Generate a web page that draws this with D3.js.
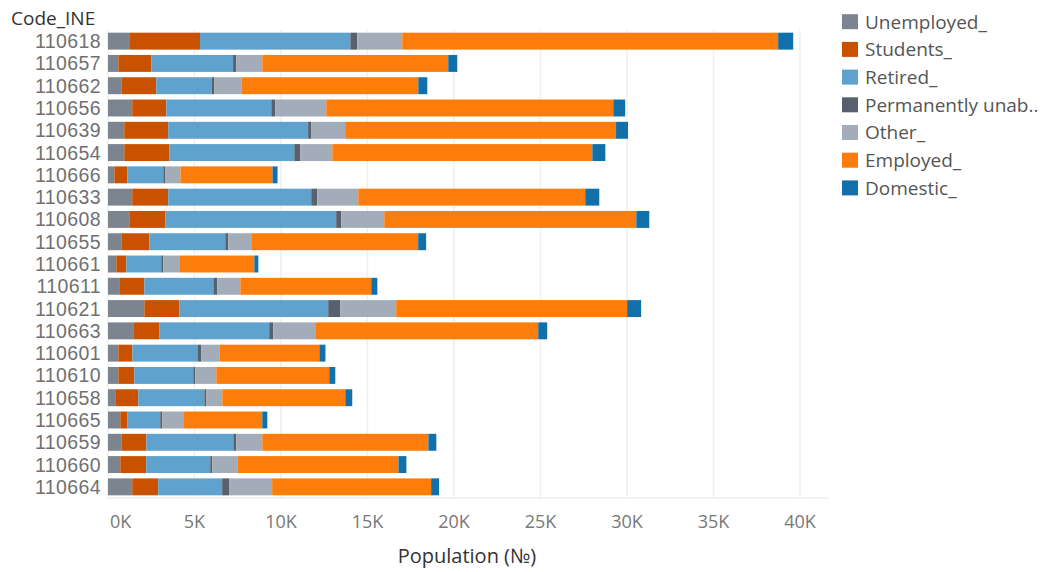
<!DOCTYPE html>
<html>
<head>
<meta charset="utf-8">
<script src="https://cdn.jsdelivr.net/npm/d3@7"></script>
<style>
  html, body { margin: 0; padding: 0; background: #fff; }
  svg { display: block; font-family: "Open Sans", sans-serif; }
</style>
</head>
<body>
<svg id="chart" width="1053" height="572"></svg>
<script>
const categories = ["110618","110657","110662","110656","110639","110654","110666","110633","110608","110655","110661","110611","110621","110663","110601","110610","110658","110665","110659","110660","110664"];
const seriesNames = ["Unemployed_","Students_","Retired_","Permanently unab..","Other_","Employed_","Domestic_"];
const unemployed  = [1270, 600, 770,1400, 940, 940, 370,1400,1230, 770, 480, 650,2100,1460, 600, 600, 420, 710, 770, 710,1400];
const students    = [4050,1910,2020,1970,2540,2600, 750,2080,2080,1620, 580,1450,2020,1500, 810, 920,1330, 400,1450,1500,1500];
const retired     = [8690,4720,3200,6070,8090,7230,2080,8270,9880,4390,2020,3990,8610,6360,3760,3410,3820,1910,5030,3700,3700];
const permanently = [ 400, 190, 160, 230, 170, 350, 120, 350, 290, 170, 120, 230, 690, 230, 230, 120, 120, 120, 170, 120, 400];
const other       = [2600,1500,1560,2950,1970,1850, 870,2370,2490,1330, 920,1330,3240,2430,1040,1210, 920,1210,1500,1450,2490];
const employed    = [21730,10750,10230,16590,15660,15030,5320,13120,14570,9650,4340,7570,13350,12890,5780,6530,7110,4570,9600,9310,9190];
const domestic    = [ 870, 520, 520, 690, 690, 750, 290, 810, 750, 460, 230, 350, 810, 520, 350, 350, 400, 290, 460, 460, 460];
const tickValues  = [0,5000,10000,15000,20000,25000,30000,35000,40000];
const tickLabels  = ["0K","5K","10K","15K","20K","25K","30K","35K","40K"];
const colors      = ["#7b848f","#c85200","#5fa2ce","#57606c","#a3acb9","#fc7d0b","#1170aa"];

const seriesArrays = [unemployed, students, retired, permanently, other, employed, domestic];
const table = categories.map((c, i) => {
  const row = { code: c };
  seriesNames.forEach((s, j) => row[s] = seriesArrays[j][i]);
  return row;
});

const svg = d3.select("#chart");
const x = d3.scaleLinear().domain([0, 41680]).range([108, 829]);
const y = d3.scaleBand().domain(categories).range([30, 498]).paddingInner(0.24).paddingOuter(0.12);
const color = d3.scaleOrdinal().domain(seriesNames).range(colors);

// gridlines
svg.append("g").selectAll("line").data(tickValues).join("line")
  .attr("x1", d => x(d)).attr("x2", d => x(d))
  .attr("y1", 30).attr("y2", 498)
  .attr("stroke", "#efefef").attr("stroke-width", 1.5);
// axis baseline
svg.append("line").attr("x1", 108).attr("x2", 829).attr("y1", 498).attr("y2", 498)
  .attr("stroke", "#efefef").attr("stroke-width", 1.5);

// stacked bars
const stack = d3.stack().keys(seriesNames);
const layers = stack(table);
svg.append("g").selectAll("g").data(layers).join("g")
  .attr("fill", d => color(d.key))
  .selectAll("rect").data(d => d).join("rect")
  .attr("x", d => x(d[0]))
  .attr("width", d => x(d[1]) - x(d[0]))
  .attr("y", d => y(d.data.code))
  .attr("height", y.bandwidth());

// y labels
svg.append("g").selectAll("text").data(categories).join("text")
  .attr("x", 101).attr("y", d => y(d) + y.bandwidth() / 2)
  .attr("dy", "0.36em")
  .attr("text-anchor", "end")
  .attr("font-family", "'Liberation Sans', Arial, sans-serif")
  .attr("font-size", 19.5).attr("fill", "#707070")
  .attr("letter-spacing", 0.4)
  .text(d => d);

svg.append("text").attr("x", 11).attr("y", 25)
  .attr("font-size", 19).attr("fill", "#333").text("Code_INE");

// x tick labels
svg.append("g").selectAll("text").data(tickValues).join("text")
  .attr("x", (d, i) => i === 0 ? 110 : x(d))
  .attr("y", 528)
  .attr("text-anchor", (d, i) => i === 0 ? "start" : "middle")
  .attr("font-size", 18).attr("fill", "#777")
  .text((d, i) => tickLabels[i]);

svg.append("text").attr("x", 467).attr("y", 563)
  .attr("text-anchor", "middle")
  .attr("font-size", 20).attr("fill", "#333").text("Population (№)");

// legend
const leg = svg.append("g").selectAll("g").data(seriesNames).join("g")
  .attr("transform", (d, i) => `translate(842, ${21.7 + i * 27.7})`);
leg.append("rect").attr("x", 0).attr("y", -7.5).attr("width", 16).attr("height", 15)
  .attr("fill", d => color(d));
leg.append("text").attr("x", 23).attr("dy", "0.36em")
  .attr("font-size", 19).attr("fill", "#555").text(d => d);
</script>
</body>
</html>
